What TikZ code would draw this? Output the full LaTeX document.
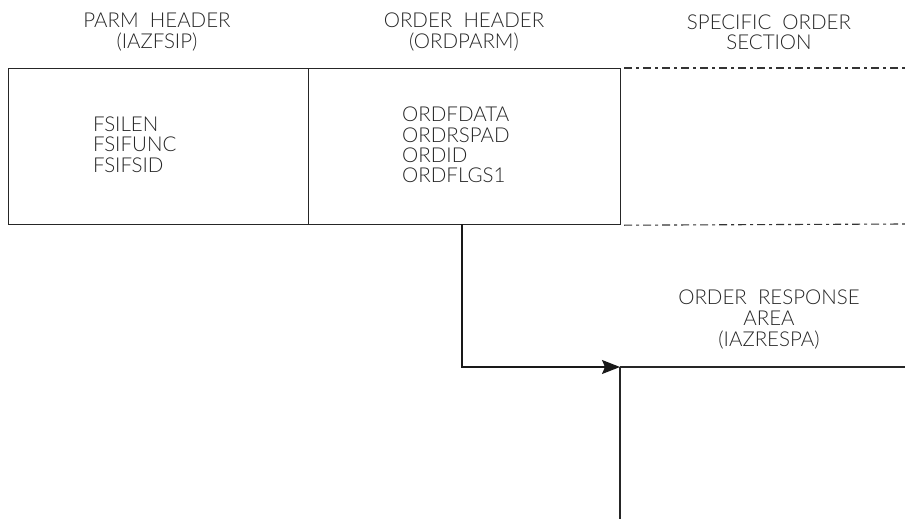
\documentclass[tikz,border=0pt]{standalone}
\usepackage{fontspec}
\setmainfont{Lato}[UprightFont=* Light]
\usetikzlibrary{arrows.meta}
\begin{document}
\begin{tikzpicture}[x=1pt,y=-1pt,
  lbl/.style={inner sep=0pt,font=\fontsize{20.5}{20.5}\selectfont,text=black!85},
  boxline/.style={draw=black!85,line width=1.2pt},
  dashdot/.style={draw=black!80,line width=1.1pt,dash pattern=on 8pt off 4pt on 3pt off 4pt},
  conn/.style={draw=black!90,line width=1.2pt}]
\useasboundingbox (0,0) rectangle (905,519);
% boxes
\node[boxline,minimum width=300pt,minimum height=156pt,inner sep=0pt,anchor=north west] (parm) at (8,68) {};
\node[boxline,minimum width=312pt,minimum height=156pt,inner sep=0pt,anchor=north west] (ordh) at (308,68) {};
\coordinate (dtr) at (905,68);
\coordinate (dbr) at (905,224);
\draw[dashdot] ([xshift=3pt]ordh.north east) -- (dtr);
\draw[dashdot] ([xshift=3pt]ordh.south east) -- (dbr);
% headers
\node[lbl,align=center] (h1) at (157,32) {PARM\ \ HEADER\\(IAZFSIP)};
\node[lbl,align=center] (h2) at (464,32) {ORDER\ \ HEADER\\(ORDPARM)};
\node[lbl,align=center] (h3) at (769,32) {SPECIFIC\ \ ORDER\\SECTION};
% contents
\node[lbl,align=left,anchor=west,font=\fontsize{20.5}{20.5}\selectfont] (fsi) at (93,144.5) {FSILEN\\FSIFUNC\\FSIFSID};
\node[lbl,align=left,anchor=west,font=\fontsize{20.5}{20.2}\selectfont] (ord) at (402,145) {ORDFDATA\\ORDRSPAD\\ORDID\\ORDFLGS1};
% response area
\coordinate (cstart) at (462,224);
\coordinate (resp) at (620,367);
\coordinate (respr) at (905,367);
\coordinate (respb) at (620,519);
\draw[conn,-{Stealth[length=18pt,width=14pt,inset=3pt]}] (cstart) |- (resp);
\draw[boxline] (resp) -- (respr);
\draw[boxline] (resp) -- (respb);
\node[lbl,align=center,font=\fontsize{20.5}{21}\selectfont] (ra) at (769,320) {ORDER\ \ RESPONSE\\AREA\\(IAZRESPA)};
\end{tikzpicture}
\end{document}
